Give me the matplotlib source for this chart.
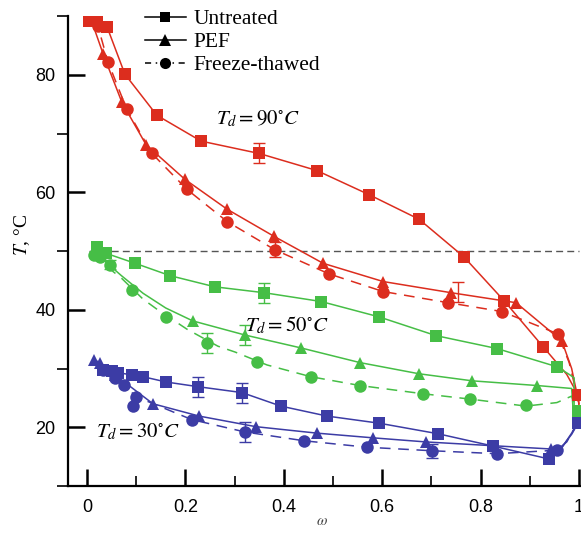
import matplotlib
matplotlib.use('Agg')
import matplotlib.pyplot as plt
from matplotlib.lines import Line2D
from matplotlib.ticker import MultipleLocator

plt.rcParams['mathtext.fontset'] = 'stix'
plt.rcParams['font.family'] = ['Liberation Sans', 'DejaVu Sans']

RED = '#dc2d1e'
GREEN = '#46be46'
BLUE = '#3c3ca5'

# --- measured points (omega, T) ---
# Td = 90 C
u90_w = [0.004, 0.020, 0.041, 0.077, 0.142, 0.232, 0.350, 0.467, 0.573, 0.675, 0.766, 0.848, 0.927, 0.998]
u90_T = [89.1, 89.1, 88.1, 80.1, 73.1, 68.7, 66.6, 63.7, 59.6, 55.4, 49.0, 41.5, 33.7, 25.5]
p90_w = [0.033, 0.071, 0.120, 0.199, 0.285, 0.380, 0.480, 0.602, 0.740, 0.872, 0.965]
p90_T = [83.5, 75.3, 68.1, 62.2, 57.1, 52.5, 47.9, 44.8, 42.9, 41.2, 34.7]
f90_w = [0.022, 0.043, 0.081, 0.132, 0.203, 0.285, 0.382, 0.492, 0.602, 0.734, 0.843, 0.957]
f90_T = [88.3, 82.1, 74.1, 66.6, 60.5, 55.0, 50.2, 46.1, 43.1, 41.2, 39.7, 35.9]

# Td = 50 C
u50_w = [0.020, 0.039, 0.098, 0.169, 0.260, 0.360, 0.476, 0.593, 0.709, 0.833, 0.955, 0.998]
u50_T = [50.6, 49.6, 47.9, 45.8, 43.9, 42.9, 41.4, 38.8, 35.6, 33.4, 30.3, 22.8]
p50_w = [0.016, 0.215, 0.321, 0.435, 0.555, 0.675, 0.783, 0.915]
p50_T = [49.9, 38.1, 35.7, 33.5, 31.0, 29.1, 27.9, 27.1]
f50_w = [0.014, 0.026, 0.047, 0.091, 0.161, 0.244, 0.346, 0.455, 0.555, 0.683, 0.778, 0.892]
f50_T = [49.4, 48.9, 47.7, 43.4, 38.8, 34.4, 31.1, 28.6, 27.1, 25.7, 24.8, 23.8]

# Td = 30 C
u30_w = [0.033, 0.051, 0.063, 0.091, 0.114, 0.161, 0.226, 0.315, 0.394, 0.488, 0.593, 0.713, 0.825, 0.939, 0.998]
u30_T = [29.8, 29.6, 29.3, 28.9, 28.6, 27.7, 26.9, 25.9, 23.6, 21.9, 20.7, 18.9, 16.8, 14.6, 20.7]
p30_w = [0.014, 0.026, 0.057, 0.134, 0.228, 0.343, 0.467, 0.581, 0.689, 0.943]
p30_T = [31.5, 31.0, 28.9, 24.0, 21.9, 20.1, 19.0, 18.2, 17.5, 16.3]
f30_w = [0.033, 0.057, 0.075, 0.100, 0.093, 0.213, 0.321, 0.441, 0.569, 0.701, 0.833, 0.955]
f30_T = [29.8, 28.4, 27.2, 25.2, 23.6, 21.3, 19.2, 17.7, 16.6, 16.0, 15.5, 16.1]

# --- continuous drying curves (omega, T) ---
u90_line_w = [0.004, 0.020, 0.041, 0.077, 0.142, 0.232, 0.350, 0.467, 0.573, 0.675, 0.766, 0.848, 0.927, 0.975, 0.998, 1.0]
u90_line_T = [89.2, 89.2, 88.1, 80.1, 73.1, 68.7, 66.6, 63.7, 59.6, 55.4, 49.0, 41.5, 33.7, 29.0, 25.5, 23.5]
p90_line_w = [0.010, 0.033, 0.071, 0.120, 0.199, 0.285, 0.380, 0.480, 0.602, 0.740, 0.872, 0.965, 0.985, 1.0]
p90_line_T = [89.0, 83.5, 75.3, 68.1, 62.2, 57.1, 52.5, 47.9, 44.8, 42.9, 41.2, 34.7, 30.0, 24.0]
f90_line_w = [0.012, 0.022, 0.043, 0.081, 0.132, 0.203, 0.285, 0.382, 0.492, 0.602, 0.734, 0.843, 0.957, 0.980, 1.0]
f90_line_T = [89.0, 88.3, 82.1, 74.1, 66.6, 60.5, 55.0, 50.2, 46.1, 43.1, 41.2, 39.7, 35.9, 31.0, 24.0]

u50_line_w = [0.020, 0.039, 0.098, 0.169, 0.260, 0.360, 0.476, 0.593, 0.709, 0.833, 0.955, 0.980, 0.990, 0.990, 1.0]
u50_line_T = [50.6, 49.6, 47.9, 45.8, 43.9, 42.9, 41.4, 38.8, 35.6, 33.4, 30.3, 29.0, 28.4, 23.2, 22.8]
p50_line_w = [0.016, 0.040, 0.070, 0.114, 0.160, 0.215, 0.321, 0.435, 0.555, 0.675, 0.783, 0.915, 0.985, 0.988, 1.0]
p50_line_T = [49.9, 48.0, 45.8, 42.8, 40.3, 38.1, 35.7, 33.5, 31.0, 29.1, 27.9, 27.1, 26.6, 23.0, 22.8]
f50_line_w = [0.014, 0.026, 0.053, 0.071, 0.114, 0.142, 0.203, 0.266, 0.301, 0.366, 0.455, 0.555, 0.683, 0.778, 0.892, 0.955, 0.985, 0.995]
f50_line_T = [49.4, 48.9, 46.5, 45.3, 41.8, 40.1, 36.7, 33.8, 32.8, 30.6, 28.6, 27.1, 25.7, 24.8, 23.6, 24.2, 25.3, 23.0]

u30_line_w = [0.020, 0.033, 0.051, 0.063, 0.091, 0.114, 0.161, 0.226, 0.315, 0.394, 0.488, 0.593, 0.713, 0.825, 0.939, 0.965, 0.985, 1.0]
u30_line_T = [30.5, 29.8, 29.6, 29.3, 28.9, 28.6, 27.7, 26.9, 25.9, 23.6, 21.9, 20.7, 18.9, 16.8, 14.6, 16.5, 19.0, 21.0]
p30_line_w = [0.014, 0.026, 0.057, 0.134, 0.228, 0.343, 0.467, 0.581, 0.689, 0.943, 0.965, 0.985, 1.0]
p30_line_T = [31.5, 31.0, 28.9, 24.0, 21.9, 20.1, 19.0, 18.2, 17.5, 16.3, 16.6, 18.8, 21.0]
f30_line_w = [0.033, 0.057, 0.075, 0.100, 0.213, 0.321, 0.441, 0.569, 0.701, 0.833, 0.955, 0.975, 0.995]
f30_line_T = [29.8, 28.4, 27.2, 25.2, 21.3, 19.2, 17.7, 16.6, 16.0, 15.5, 16.1, 17.5, 20.5]

# --- error bars ---
err_w = [0.350, 0.382, 0.754, 0.360, 0.321, 0.244, 0.047, 0.226, 0.315, 0.321, 0.701]
err_T = [66.6, 50.2, 43.0, 42.9, 35.7, 34.4, 47.7, 26.9, 25.9, 19.2, 16.0]
err_e = [1.7, 1.3, 1.7, 1.7, 1.7, 1.7, 0.8, 1.7, 1.7, 1.7, 1.2]
err_c = [RED, RED, RED, GREEN, GREEN, GREEN, GREEN, BLUE, BLUE, BLUE, BLUE]

legend_labels = ['Untreated', 'PEF', 'Freeze-thawed']
td_labels = [r'$T_d = 90^{\circ}C$', r'$T_d = 50^{\circ}C$', r'$T_d = 30^{\circ}C$']
td_pos = [(0.262, 72.6), (0.321, 37.4), (0.018, 19.2)]

fig = plt.figure(figsize=(5.81, 5.33), dpi=100)
ax = fig.add_axes([68 / 581, 1 - 486 / 533, 1 - 68 / 581, (486 - 16) / 533])

# reference drying temperature line
ax.plot([0.005, 1.0], [50, 50], color='#555555', lw=1, dashes=(5, 3), zorder=1)

series = [
    (u90_line_w, u90_line_T, u90_w, u90_T, RED, 's', '-'),
    (p90_line_w, p90_line_T, p90_w, p90_T, RED, '^', '-'),
    (f90_line_w, f90_line_T, f90_w, f90_T, RED, 'o', '--'),
    (u50_line_w, u50_line_T, u50_w, u50_T, GREEN, 's', '-'),
    (p50_line_w, p50_line_T, p50_w, p50_T, GREEN, '^', '-'),
    (f50_line_w, f50_line_T, f50_w, f50_T, GREEN, 'o', '--'),
    (u30_line_w, u30_line_T, u30_w, u30_T, BLUE, 's', '-'),
    (p30_line_w, p30_line_T, p30_w, p30_T, BLUE, '^', '-'),
    (f30_line_w, f30_line_T, f30_w, f30_T, BLUE, 'o', '--'),
]
for lw_, lT_, mw, mT, c, m, ls in series:
    if ls == '--':
        ax.plot(lw_, lT_, color=c, lw=1.1, dashes=(7, 5), zorder=2)
    else:
        ax.plot(lw_, lT_, color=c, lw=1.1, zorder=2)
    ax.plot(mw, mT, ls='none', marker=m, color=c, ms=9 if m != 's' else 8.5,
            markeredgewidth=0, zorder=3)

for w, T, e, c in zip(err_w, err_T, err_e, err_c):
    ax.errorbar([w], [T], yerr=[e], fmt='none', ecolor=c, elinewidth=1, capsize=4, zorder=2)

for lab, (x, y) in zip(td_labels, td_pos):
    ax.text(x, y, lab, fontsize=15, va='center', ha='left')

ax.set_xlim(-0.0386, 1.004)
ax.set_ylim(10, 90)
ax.spines['top'].set_visible(False)
ax.spines['right'].set_visible(False)
ax.spines['left'].set_linewidth(1.6)
ax.spines['bottom'].set_linewidth(1.6)

ax.xaxis.set_major_locator(MultipleLocator(0.2))
ax.xaxis.set_minor_locator(MultipleLocator(0.1))
ax.yaxis.set_major_locator(MultipleLocator(20))
ax.yaxis.set_minor_locator(MultipleLocator(10))
ax.set_xticks([0, 0.2, 0.4, 0.6, 0.8, 1.0], ['0', '0.2', '0.4', '0.6', '0.8', '1'])
ax.set_yticks([20, 40, 60, 80])
ax.tick_params(axis='both', which='major', direction='in', length=12, width=1.8,
               labelsize=13, pad=9)
ax.tick_params(axis='x', which='minor', direction='in', length=7, width=1.2)
ax.tick_params(axis='y', which='minor', direction='out', length=8, width=1.2)

fig.text(22 / 581, 1 - 235 / 533, r'$T$, °C', rotation=90, va='center', ha='center',
         fontsize=14, family='Liberation Serif')
fig.text(322 / 581, 1 - 521 / 533, r'$\omega$', va='center', ha='center',
         fontsize=11, color='#444444')

handles = [
    Line2D([], [], color='black', lw=1.1, marker='s', ms=7, markeredgewidth=0),
    Line2D([], [], color='black', lw=1.1, marker='^', ms=8, markeredgewidth=0),
    Line2D([], [], color='black', lw=1.1, marker='o', ms=8, markeredgewidth=0,
           dashes=(4, 3, 1, 3)),
]
leg = ax.legend(handles, legend_labels, loc='upper left', frameon=False,
                bbox_to_anchor=(145 / 581, 1 - 9 / 533), bbox_transform=fig.transFigure,
                borderpad=0, borderaxespad=0, handlelength=1.9, handletextpad=0.35,
                labelspacing=0.14, prop={'family': 'Liberation Serif', 'size': 15.5})

fig.savefig('out.png', dpi=100)
